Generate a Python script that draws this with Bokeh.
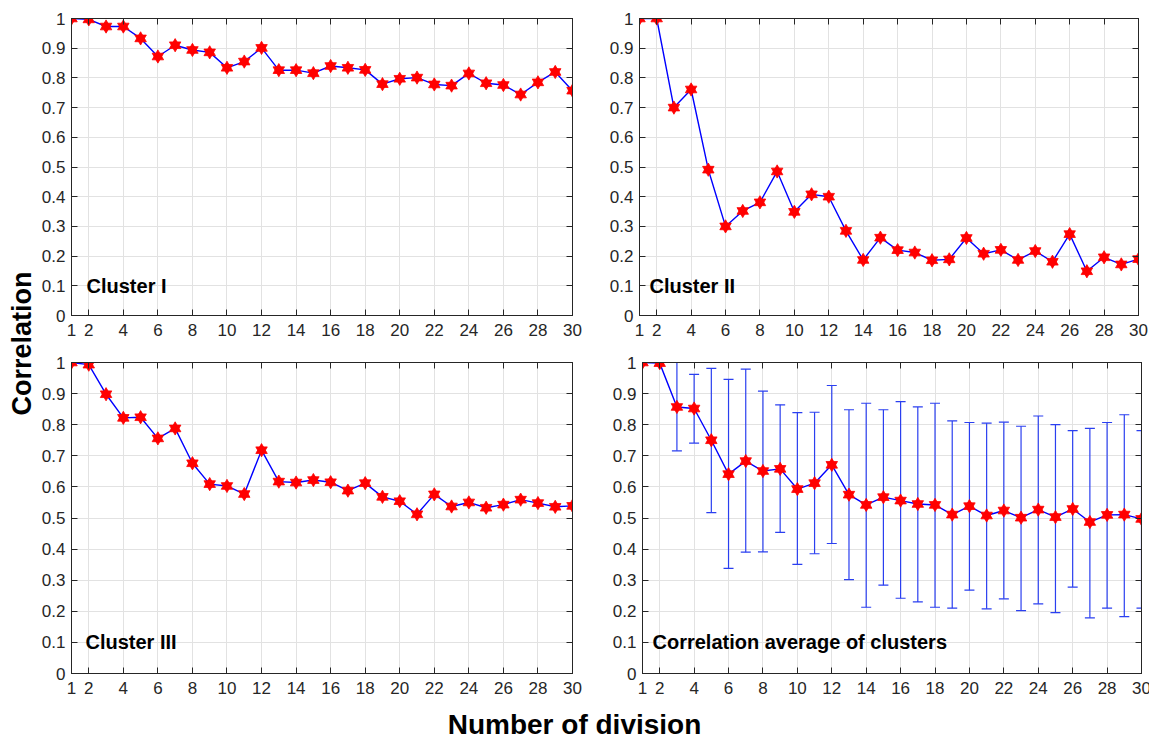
import math
from bokeh.plotting import figure
from bokeh.layouts import row, column
from bokeh.models import (Range1d, FixedTicker, NumeralTickFormatter, LinearAxis,
                          ColumnDataSource, Whisker, TeeHead, CustomJSTickFormatter, Label)
from bokeh.embed import file_html
from bokeh.resources import INLINE

# ---------------- data ----------------
divisions = list(range(1, 31))

cluster1 = [1.0, 0.997, 0.973, 0.973, 0.933, 0.872, 0.910, 0.894, 0.886, 0.834,
            0.855, 0.901, 0.826, 0.826, 0.816, 0.840, 0.834, 0.827, 0.779, 0.797,
            0.801, 0.778, 0.774, 0.815, 0.782, 0.776, 0.744, 0.785, 0.820, 0.757]

cluster2 = [1.0, 1.0, 0.700, 0.761, 0.491, 0.300, 0.352, 0.381, 0.485, 0.349,
            0.408, 0.400, 0.285, 0.187, 0.262, 0.220, 0.212, 0.186, 0.189, 0.261,
            0.208, 0.221, 0.187, 0.217, 0.181, 0.274, 0.149, 0.196, 0.172, 0.190]

cluster3 = [1.0, 0.993, 0.898, 0.822, 0.824, 0.756, 0.788, 0.676, 0.609, 0.603,
            0.577, 0.718, 0.617, 0.614, 0.622, 0.615, 0.588, 0.612, 0.568, 0.554,
            0.512, 0.576, 0.537, 0.550, 0.533, 0.543, 0.559, 0.548, 0.536, 0.539]

avg_mean = [1.0, 0.998, 0.857, 0.852, 0.750, 0.641, 0.683, 0.651, 0.658, 0.593,
            0.612, 0.671, 0.575, 0.542, 0.567, 0.556, 0.545, 0.542, 0.511, 0.538,
            0.508, 0.524, 0.501, 0.527, 0.503, 0.529, 0.487, 0.510, 0.511, 0.497]

avg_upper = [1.0, 0.998, 1.0, 0.962, 0.981, 0.946, 0.979, 0.908, 0.864, 0.839,
             0.840, 0.926, 0.848, 0.869, 0.848, 0.874, 0.857, 0.869, 0.812, 0.807,
             0.805, 0.808, 0.795, 0.828, 0.800, 0.781, 0.788, 0.807, 0.832, 0.781]

avg_lower = [1.0, 0.998, 0.716, 0.741, 0.517, 0.338, 0.390, 0.391, 0.454, 0.351,
             0.385, 0.418, 0.302, 0.213, 0.284, 0.242, 0.230, 0.213, 0.210, 0.268,
             0.208, 0.240, 0.202, 0.224, 0.196, 0.278, 0.179, 0.210, 0.183, 0.210]

x_ticks = [1, 2, 4, 6, 8, 10, 12, 14, 16, 18, 20, 22, 24, 26, 28, 30]
y_ticks = [0, 0.1, 0.2, 0.3, 0.4, 0.5, 0.6, 0.7, 0.8, 0.9, 1.0]

panel_titles = ["Cluster I", "Cluster II", "Cluster III", "Correlation average of clusters"]
x_label = "Number of division"
y_label = "Correlation"

# ---------------- style ----------------
FONT = "Liberation Sans"
AX = "#262626"
GRID = "#e2e2e2"
LINE = "#0000ff"
ERR = "#2a3ff0"
STAR = "#ff0000"


def style_axis(ax):
    ax.major_tick_in = 6
    ax.major_tick_out = 0
    ax.minor_tick_in = 0
    ax.minor_tick_out = 0
    ax.axis_line_color = AX
    ax.axis_line_width = 1
    ax.major_tick_line_color = AX
    ax.major_label_text_font = FONT
    ax.major_label_text_font_size = "17px"
    ax.major_label_text_color = AX


def blank_axis(ticks):
    a = LinearAxis(ticker=FixedTicker(ticks=ticks),
                   formatter=CustomJSTickFormatter(code="return ''"))
    style_axis(a)
    a.major_label_text_font_size = "1px"
    a.major_label_standoff = 0
    return a


def make_panel(yvals, title, title_x, fw, bl, br, bt, bb, fh, err=None):
    p = figure(frame_width=fw, frame_height=fh,
               min_border_left=bl, min_border_right=br,
               min_border_top=bt, min_border_bottom=bb,
               x_range=Range1d(1, 30), y_range=Range1d(0, 1),
               toolbar_location=None, output_backend="svg")
    p.outline_line_color = AX
    p.outline_line_width = 1
    p.xaxis.ticker = FixedTicker(ticks=x_ticks)
    p.yaxis.ticker = FixedTicker(ticks=y_ticks)
    p.yaxis.formatter = NumeralTickFormatter(format="0.[0]")
    for ax in p.xaxis + p.yaxis:
        style_axis(ax)
    p.xaxis.major_label_standoff = 8
    p.yaxis.major_label_standoff = 6
    p.grid.grid_line_color = GRID
    p.grid.grid_line_width = 1
    p.add_layout(blank_axis(x_ticks), "above")
    p.add_layout(blank_axis(y_ticks), "right")

    if err is not None:
        up, lo = err
        ex = [d for d, u, l in zip(divisions, up, lo) if u > l]
        eu = [u for u, l in zip(up, lo) if u > l]
        el = [l for u, l in zip(up, lo) if u > l]
        src = ColumnDataSource(dict(x=ex, upper=eu, lower=el))
        w = Whisker(source=src, base="x", upper="upper", lower="lower",
                    line_color=ERR, line_width=1.2)
        w.upper_head = TeeHead(size=10, line_color=ERR, line_width=1.2)
        w.lower_head = TeeHead(size=10, line_color=ERR, line_width=1.2)
        p.add_layout(w)

    p.line(divisions, yvals, line_color=LINE, line_width=1.4)
    p.scatter(divisions, yvals, marker="triangle", size=11.5,
              fill_color=STAR, line_color=STAR, line_width=0.8)
    p.scatter(divisions, yvals, marker="inverted_triangle", size=11.5,
              fill_color=STAR, line_color=STAR, line_width=0.8)

    p.add_layout(Label(x=title_x, y=0.1, text=title, text_font=FONT,
                       text_font_style="bold", text_font_size="20px",
                       text_color="black", text_baseline="alphabetic",
                       text_align="left"))
    return p


LEFT_W = 38
# top row: canvas height 353 (frame 18..315); bottom row: canvas 352 (frame 362..673)
p1 = make_panel(cluster1, panel_titles[0], 1.87, 501, 32, 34, 18, 38, 297)
p2 = make_panel(cluster2, panel_titles[1], 1.58, 499, 32, 13, 18, 38, 297)
p3 = make_panel(cluster3, panel_titles[2], 1.81, 501, 29, 37, 9, 32, 311)
p4 = make_panel(avg_mean, panel_titles[3], 1.58, 499, 32, 13, 9, 32, 311,
                err=(avg_upper, avg_lower))

# y label figure
lf = figure(width=LEFT_W, height=705, x_range=Range1d(0, LEFT_W), y_range=Range1d(0, 705),
            toolbar_location=None, output_backend="svg", min_border=0,
            x_axis_location=None, y_axis_location=None)
lf.grid.visible = False
lf.outline_line_color = None
lf.add_layout(Label(x=21, y=705 - 343, text=y_label, angle=math.pi / 2,
                    text_font=FONT, text_font_style="bold", text_font_size="27px",
                    text_color="black", text_align="center", text_baseline="middle"))

# x label figure
bf = figure(width=1149, height=34, x_range=Range1d(0, 1149), y_range=Range1d(0, 34),
            toolbar_location=None, output_backend="svg", min_border=0,
            x_axis_location=None, y_axis_location=None)
bf.grid.visible = False
bf.outline_line_color = None
bf.add_layout(Label(x=574, y=15, text=x_label,
                    text_font=FONT, text_font_style="bold", text_font_size="28px",
                    text_color="black", text_align="center", text_baseline="middle"))

layout = column(row(lf, column(row(p1, p2), row(p3, p4))), bf)

open("out.html", "w").write(file_html(layout, INLINE))
